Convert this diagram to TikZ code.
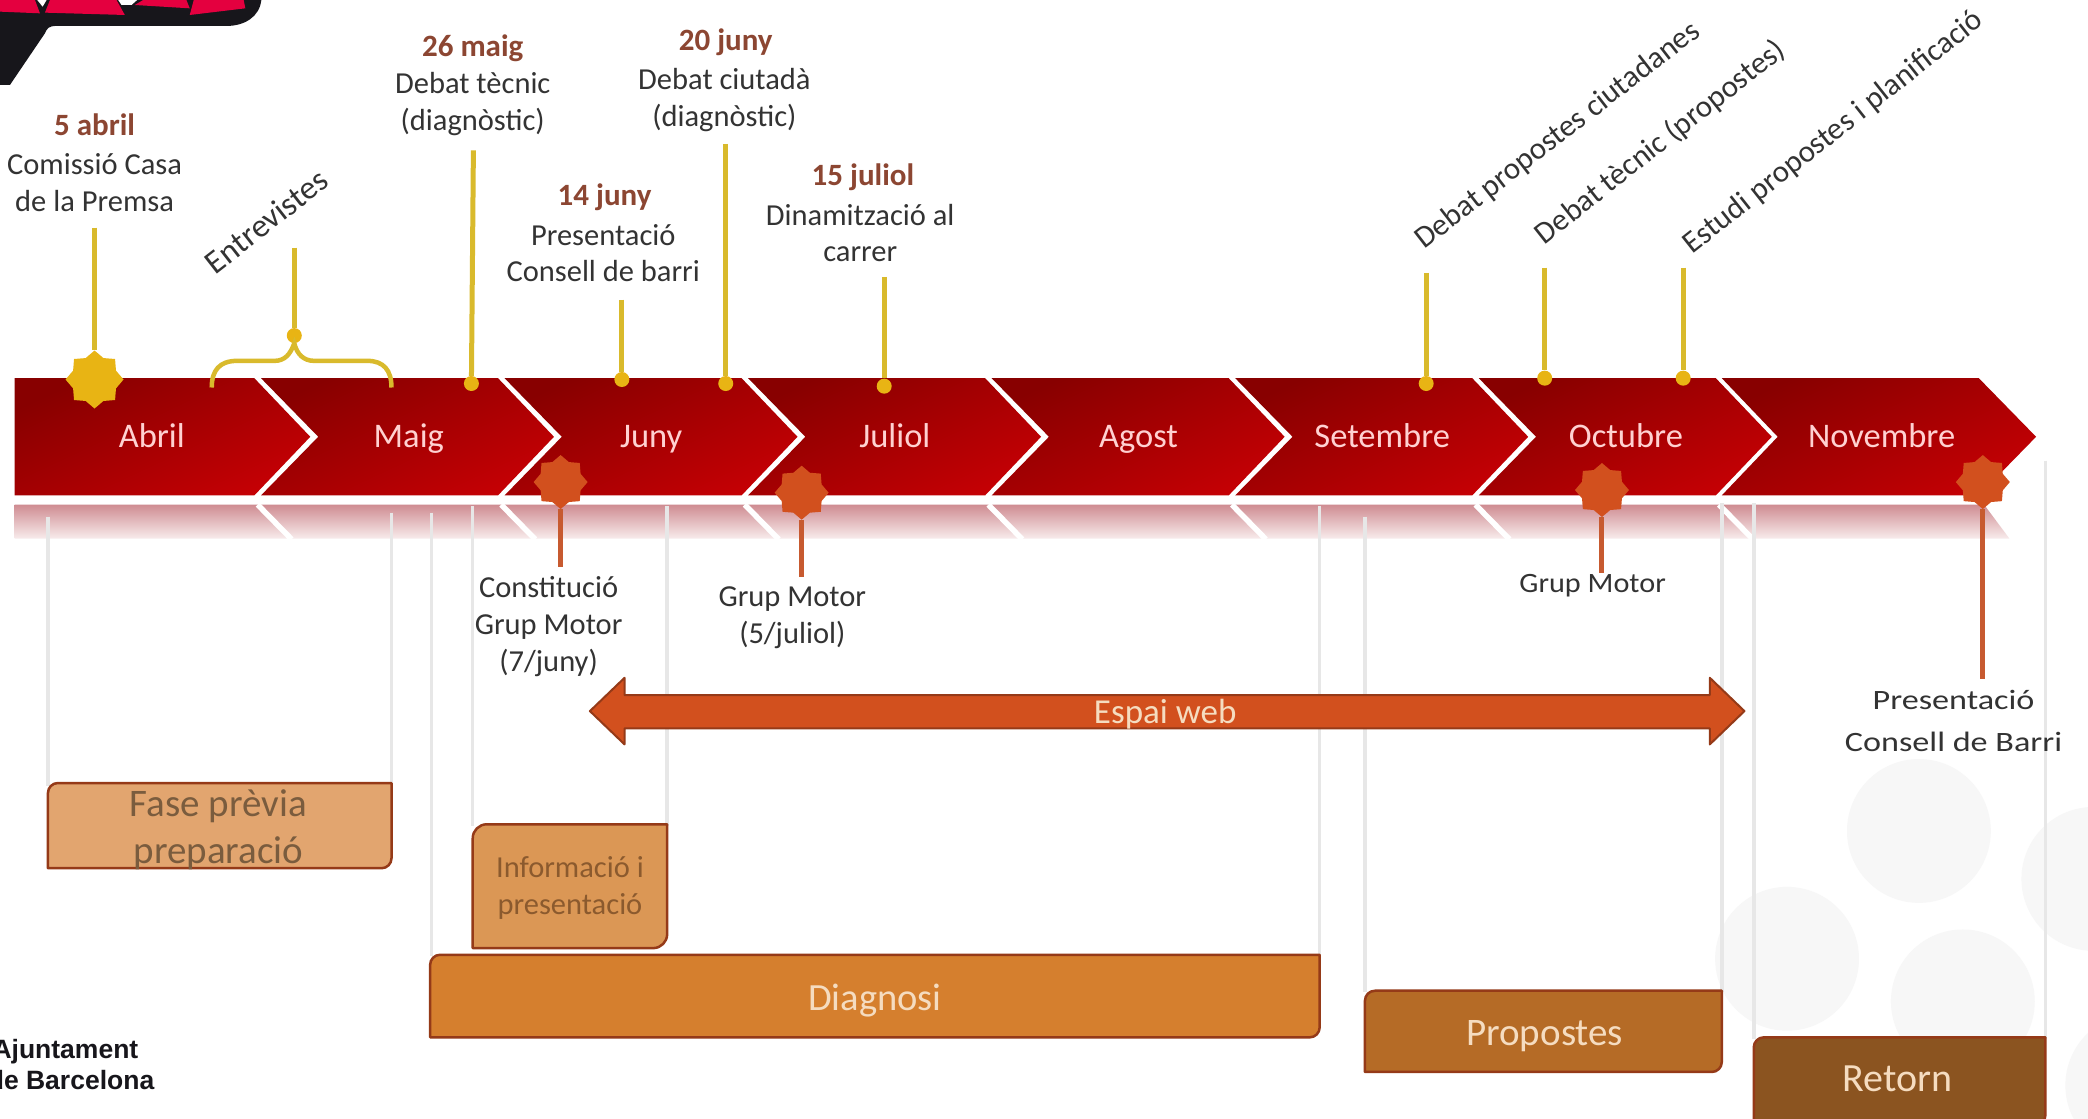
\documentclass[tikz,border=0pt]{standalone}
\usepackage{fontspec}
\setmainfont{Carlito}
\newfontfamily\logofont{Liberation Sans}
\usetikzlibrary{shapes.geometric}
\definecolor{yel}{HTML}{D9BA2C}
\definecolor{yeldot}{HTML}{E8B414}
\definecolor{ora}{HTML}{D2501E}
\definecolor{oraline}{HTML}{C75A30}
\definecolor{dark}{HTML}{880000}
\definecolor{bright}{HTML}{C40004}
\definecolor{guide}{HTML}{E7E7E7}
\definecolor{blob}{HTML}{F7F7F7}
\definecolor{txt}{HTML}{333333}
\definecolor{datec}{HTML}{8C4632}
\definecolor{logoblack}{HTML}{17161B}
\definecolor{logored}{HTML}{E4003F}
\definecolor{edgec}{HTML}{953A18}
\definecolor{bandtop}{HTML}{CF8C92}
\definecolor{bandend}{HTML}{F8ECEC}
\definecolor{fasefill}{HTML}{E2A56F}
\definecolor{infofill}{HTML}{DB9755}
\definecolor{diagfill}{HTML}{D57F2E}
\definecolor{propfill}{HTML}{B56B26}
\definecolor{retfill}{HTML}{8B5420}
\definecolor{fasetxt}{HTML}{7A5C3E}
\definecolor{infotxt}{HTML}{8B5A2E}
\definecolor{lighttxt}{HTML}{F5DCC0}
\tikzset{
  chev/.style={top color=dark,bottom color=bright,shading angle=25,draw=none},
  month/.style={text=white!82!red,font=\fontsize{34.5}{36}\selectfont,inner sep=0,anchor=base},
  lab/.style={text=txt,font=\fontsize{30.5}{36.6}\selectfont,inner sep=0,align=center},
  datelab/.style={text=datec,font=\fontsize{31}{36}\selectfont\bfseries,inner sep=0},
  diag/.style={text=txt,font=\fontsize{31}{36}\selectfont,inner sep=0},
  yline/.style={draw=yel,line width=5pt},
  oline/.style={draw=oraline,line width=5pt},
  ydot/.style={circle,fill=yeldot,minimum size=15pt,inner sep=0},
  ystar/.style={star,star points=8,star point ratio=1.25,fill=yeldot,minimum size=58pt,inner sep=0},
  ostar/.style={star,star points=8,star point ratio=1.25,fill=ora,minimum size=54pt,inner sep=0},
  guideline/.style={draw=guide,line width=3.5pt},
  phase/.style={draw=edgec,line width=2.5pt,line join=round},
  phasetext/.style={inner sep=0,align=center},
  strip/.style={draw=white,line width=5.5pt},
}
\newcommand{\phasebox}[6][10]{%
  \draw[phase,fill=#6] (#2,#5) [rounded corners=#1pt] -- (#2,#3) [sharp corners] -- (#4,#3) [rounded corners=#1pt] -- (#4,#5) [sharp corners] -- cycle;}
\begin{document}
\begin{tikzpicture}[x=1.33163pt,y=-1.33163pt]
\clip (0,0) rectangle (1568,840.3);
\fill[white] (0,0) rectangle (1568,840.3);
% pale background discs
\foreach \cx/\cy in {1441/624,1342/720,1474/752,1572/660,1605/815}
  \fill[blob] (\cx,\cy) circle [x radius=54,y radius=54];
% logo fragment
\begin{scope}[scale=0.25]
\fill[logoblack] (0,0) -- (785,0) .. controls (780,50) and (735,78) .. (680,78) -- (165,78) .. controls (150,78) and (140,85) .. (135,100) -- (30,255) -- (0,255) -- cycle;
\fill[logored] (0,0) -- (105,0) -- (120,40) -- (0,35) -- cycle;
\fill[logored] (150,0) -- (135,38) -- (375,45) -- (350,0) -- cycle;
\fill[logored] (405,15) -- (570,25) -- (560,0) -- (430,0) -- cycle;
\fill[logored] (570,45) -- (737,25) -- (732,0) -- (582,0) -- cycle;
\fill[white] (112,0) -- (140,0) -- (128,20) -- cycle;
\fill[white] (365,15) -- (395,15) -- (412,0) -- (355,0) -- cycle;
\end{scope}
% reflection
\shade[top color=bandtop,bottom color=bandend] (11,379) -- (1490,379) -- (1509,404.5) -- (11,404.5) -- cycle;
\foreach \i in {0,...,6}
  \draw[strip] ({193.5+\i*182.9},379) -- ({219+\i*182.9},405);
% vertical guides
\draw[guideline] (36,388) -- (36,590);
\draw[guideline] (294,385) -- (294,590);
\draw[guideline] (324,385) -- (324,718);
\draw[guideline] (355,380) -- (355,620);
\draw[guideline] (501,380) -- (501,620);
\draw[guideline] (991,380) -- (991,718);
\draw[guideline] (1025,388) -- (1025,745);
\draw[guideline] (1293,378) -- (1293,745);
\draw[guideline] (1317,378) -- (1317,780);
\draw[guideline] (1536,346) -- (1536,780);
% chevrons
\shade[chev] (11,284) -- (191,284) -- (233,328) -- (191,372) -- (11,372) -- cycle;
\foreach \i in {0,...,5}
  \shade[chev,xshift={\i*182.9*1.33163pt}] (196,284) -- (374,284) -- (416,328) -- (374,372) -- (196,372) -- (239,328) -- cycle;
\shade[chev] (1293,284) -- (1486,284) -- (1529,328) -- (1486,372) -- (1293,372) -- (1335,328) -- cycle;
% months
\node[month] (mabr) at (114,336) {Abril};
\node[month] (mmai) at (307,336) {Maig};
\node[month] (mjun) at (489,336) {Juny};
\node[month] (mjul) at (672,336) {Juliol};
\node[month] (mago) at (855,336) {Agost};
\node[month] (mset) at (1038,336) {Setembre};
\node[month] (moct) at (1221,336) {Octubre};
\node[month] (mnov) at (1413,336) {Novembre};
% yellow markers
\node[ystar] (s1) at (71,285) {};
\node[ydot] (dent) at (221,252) {};
\node[ydot] (d26) at (354,288) {};
\node[ydot] (d14) at (467,285) {};
\node[ydot] (d20) at (545,288) {};
\node[ydot] (d15) at (664,290) {};
\node[ydot] (dsep) at (1071,288) {};
\node[ydot] (do1) at (1160,284) {};
\node[ydot] (do2) at (1264,284) {};
\coordinate (t1) at (71,171);
\coordinate (tent) at (221,186);
\coordinate (t26) at (355.5,113);
\coordinate (t14) at (467,225);
\coordinate (t20) at (545,108);
\coordinate (t15) at (664,208);
\coordinate (tsep) at (1071,205);
\coordinate (to1) at (1160,201);
\coordinate (to2) at (1264,201);
\draw[yline] (t1) -- (s1);
\draw[yline] (tent) -- (dent);
\draw[yline] (t26) -- (d26);
\draw[yline] (t14) -- (d14);
\draw[yline] (t20) -- (d20);
\draw[yline] (t15) -- (d15);
\draw[yline] (tsep) -- (dsep);
\draw[yline] (to1) -- (do1);
\draw[yline] (to2) -- (do2);
% brace
\coordinate (bl) at (159,291);
\coordinate (br) at (294,291);
\draw[draw=yel,line width=4.5pt] (bl) .. controls (159,278) and (165,271) .. (178,271) -- (206,271) .. controls (214,271) and (218,266) .. (dent.south) .. controls (223,266) and (228,271) .. (236,271) -- (276,271) .. controls (288,271) and (294,278) .. (br);
% orange markers
\node[ostar] (o1) at (421,362) {};
\node[ostar] (o2) at (602,370) {};
\node[ostar] (o3) at (1203,368) {};
\node[ostar] (o4) at (1489,362) {};
\coordinate (e1) at (421,426);
\coordinate (e2) at (602,433);
\coordinate (e3) at (1203,430);
\coordinate (e4) at (1489,510);
\draw[oline] (o1) -- (e1);
\draw[oline] (o2) -- (e2);
\draw[oline] (o3) -- (e3);
\draw[oline] (o4) -- (e4);
% upper labels
\node[datelab] (l1a) at (71,94) {5 abril};
\node[lab] (l1b) at (71,137) {Comissió Casa\\de la Premsa};
\node[diag,font=\fontsize{33}{36}\selectfont,rotate=38] (lent) at (200,166) {Entrevistes};
\node[datelab] (l2a) at (355,36) {26 maig};
\node[lab] (l2b) at (355,78) {Debat tècnic\\(diagnòstic)};
\node[datelab] (l3a) at (545,32) {20 juny};
\node[lab] (l3b) at (544,75) {Debat ciutadà\\(diagnòstic)};
\node[datelab] (l4a) at (454,148) {14 juny};
\node[lab] (l4b) at (453,190) {Presentació\\Consell de barri};
\node[datelab] (l5a) at (648,133) {15 juliol};
\node[lab] (l5b) at (646,175) {Dinamització al\\carrer};
\node[diag,rotate=37.8] (l6) at (1170,102) {Debat propostes ciutadanes};
\node[diag,rotate=38.3] (l7) at (1247,107) {Debat tècnic (propostes)};
\node[diag,rotate=38.3] (l8) at (1377,99.5) {Estudi propostes i planificació};
% lower labels
\node[lab] (l9) at (412,470.5) {Constitució\\Grup Motor\\(7/juny)};
\node[lab] (l10) at (595,464) {Grup Motor\\(5/juliol)};
\node[lab,xscale=1.08,font=\fontsize{28}{36}\selectfont] (l11) at (1196,440) {Grup Motor};
\node[lab,xscale=1.22,font=\fontsize{28}{42.6}\selectfont] (l12) at (1467,541.5) {Presentació\\Consell de Barri};
% web arrow
\draw[draw=edgec,line width=2pt,fill=ora,line join=round] (443,534) -- (469,509) -- (469,522) -- (1284,522) -- (1284,509) -- (1310,534) -- (1284,559) -- (1284,547) -- (469,547) -- (469,559) -- cycle;
\node[inner sep=0,text=lighttxt,font=\fontsize{35}{36}\selectfont] (web) at (875,536.5) {Espai web};
% phase boxes
\phasebox{36}{588}{294}{652}{fasefill}
\node[phasetext,text=fasetxt,font=\fontsize{39}{47}\selectfont] (f1) at (164,623) {Fase prèvia\\preparació};
\phasebox[14]{355}{619}{501}{712}{infofill}
\node[phasetext,text=infotxt,font=\fontsize{30.5}{37.5}\selectfont] (f2) at (428,667) {Informació i\\presentació};
\phasebox{323}{717}{991}{779}{diagfill}
\node[phasetext,text=lighttxt,font=\fontsize{38.5}{40}\selectfont] (f3) at (657,751) {Diagnosi};
\phasebox{1025}{744}{1293}{805}{propfill}
\node[phasetext,text=lighttxt,font=\fontsize{39}{40}\selectfont] (f4) at (1160,778) {Propostes};
\phasebox{1317}{779}{1536}{845}{retfill}
\node[phasetext,text=lighttxt,font=\fontsize{40}{40}\selectfont] (f5) at (1425,810) {Retorn};
% logo text
\node[anchor=east,inner sep=0,text=logoblack,font=\logofont\fontsize{26.5}{28}\selectfont\bfseries] (aj) at (104,790) {Ajuntament};
\node[anchor=east,inner sep=0,text=logoblack,font=\logofont\fontsize{26.5}{28}\selectfont\bfseries] (bcn) at (116,811) {de Barcelona};
\end{tikzpicture}
\end{document}
